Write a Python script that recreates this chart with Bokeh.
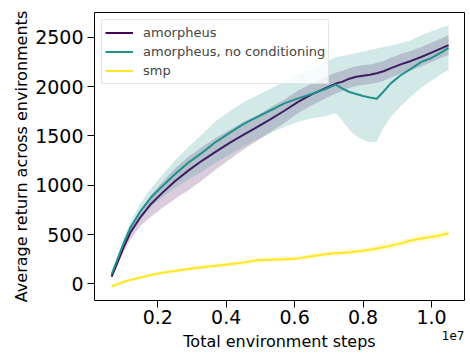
from bokeh.plotting import figure
from bokeh.models import Range1d, FixedTicker, Legend, LegendItem, Title
from bokeh.embed import file_html
from bokeh.resources import INLINE

# Environment steps at which the runs were evaluated
steps = [650000, 800000, 1000000, 1200000, 1500000, 1800000, 2100000, 2500000,
         2900000, 3300000, 3700000, 4100000, 4500000, 4900000, 5300000, 5700000,
         6100000, 6500000, 6900000, 7200000, 7400000, 7600000, 7800000, 8000000,
         8200000, 8400000, 8600000, 8800000, 9100000, 9400000, 9700000, 10000000,
         10300000, 10500000]

# amorpheus: mean return and spread
amorph_mean = [74, 200, 370, 520, 680, 810, 912, 1040, 1150, 1250, 1340, 1430,
               1510, 1590, 1670, 1755, 1845, 1920, 1985, 2030, 2050, 2080, 2100,
               2110, 2120, 2135, 2155, 2185, 2225, 2260, 2300, 2345, 2390, 2420]
amorph_lo = [60, 170, 320, 450, 590, 680, 760, 860, 950, 1050, 1160, 1260,
             1360, 1450, 1540, 1630, 1730, 1810, 1880, 1930, 1955, 1985, 2005,
             2015, 2025, 2040, 2060, 2090, 2130, 2165, 2205, 2250, 2295, 2320]
amorph_hi = [90, 225, 410, 570, 750, 900, 1020, 1170, 1290, 1390, 1480, 1560,
             1640, 1710, 1790, 1870, 1960, 2030, 2100, 2140, 2160, 2185, 2205,
             2215, 2225, 2240, 2260, 2290, 2330, 2360, 2400, 2445, 2490, 2520]

# amorpheus without conditioning
nocond_mean = [95, 230, 410, 570, 740, 875, 980, 1110, 1230, 1330, 1440, 1530,
               1620, 1690, 1760, 1830, 1880, 1925, 1975, 2020, 1980, 1945, 1925,
               1905, 1890, 1876, 1950, 2030, 2115, 2180, 2250, 2290, 2350, 2393]
nocond_lo = [80, 200, 360, 505, 660, 780, 870, 970, 1060, 1140, 1230, 1310,
             1390, 1460, 1530, 1590, 1640, 1680, 1700, 1730, 1650, 1560, 1500,
             1460, 1435, 1440, 1580, 1690, 1800, 1900, 1990, 2060, 2130, 2163]
nocond_hi = [110, 260, 455, 630, 820, 970, 1090, 1250, 1390, 1520, 1650, 1750,
             1840, 1910, 1980, 2050, 2120, 2180, 2250, 2300, 2310, 2325, 2340,
             2355, 2370, 2385, 2400, 2415, 2440, 2470, 2520, 2560, 2600, 2620]

# smp baseline
smp_mean = [-27, -5, 20, 40, 65, 90, 111, 130, 150, 168, 183, 198, 215, 238,
            245, 250, 258, 280, 300, 310, 315, 320, 328, 335, 345, 358, 370,
            385, 410, 440, 460, 475, 495, 513]
smp_lo = [-42, -22, 2, 20, 45, 70, 90, 108, 127, 145, 160, 174, 190, 212,
          219, 224, 231, 252, 272, 282, 286, 291, 298, 305, 314, 326, 338,
          352, 376, 405, 425, 440, 460, 478]
smp_hi = [-12, 12, 38, 60, 85, 110, 132, 152, 173, 191, 206, 222, 240, 264,
          271, 276, 285, 308, 328, 338, 344, 349, 358, 365, 376, 390, 402,
          418, 444, 475, 495, 510, 530, 548]

x_ticks = [2000000, 4000000, 6000000, 8000000, 10000000]
x_tick_labels = ["0.2", "0.4", "0.6", "0.8", "1.0"]
y_ticks = [0, 500, 1000, 1500, 2000, 2500]

PURPLE = "#440154"
TEAL = "#21918c"
YELLOW = "#fde725"
FONT = "DejaVu Sans"

p = figure(width=470, height=354, output_backend="svg", toolbar_location=None,
           x_range=Range1d(149700, 10965000), y_range=Range1d(-169, 2751),
           min_border_left=94, min_border_right=6, min_border_top=12,
           min_border_bottom=54)

p.background_fill_color = "white"
p.border_fill_color = "white"
p.outline_line_color = "black"
p.outline_line_width = 1
p.xgrid.visible = False
p.ygrid.visible = False

for ax in (p.xaxis[0], p.yaxis[0]):
    ax.axis_line_color = None
    ax.major_tick_out = 7
    ax.major_tick_in = 0
    ax.minor_tick_out = 0
    ax.minor_tick_in = 0
    ax.major_tick_line_color = "black"
    ax.major_label_text_font = FONT
    ax.major_label_text_font_size = "19px"
    ax.major_label_text_color = "black"
    ax.axis_label_text_font = FONT
    ax.axis_label_text_font_size = "16px"
    ax.axis_label_text_font_style = "normal"
    ax.axis_label_text_color = "black"

p.xaxis.ticker = FixedTicker(ticks=x_ticks)
p.xaxis.major_label_overrides = {t: s for t, s in zip(x_ticks, x_tick_labels)}
p.xaxis.axis_label = "Total environment steps"
p.xaxis.major_label_standoff = 2
p.xaxis.axis_label_standoff = 5

p.yaxis.ticker = FixedTicker(ticks=y_ticks)
p.yaxis.axis_label = "Average return across environments"
p.yaxis.major_label_standoff = 4
p.yaxis.axis_label_standoff = 1

# shaded spreads and mean curves
p.varea(x=steps, y1=amorph_lo, y2=amorph_hi, fill_color=PURPLE, fill_alpha=0.2)
l1 = p.line(steps, amorph_mean, line_color=PURPLE, line_width=2)
p.varea(x=steps, y1=nocond_lo, y2=nocond_hi, fill_color=TEAL, fill_alpha=0.2)
l2 = p.line(steps, nocond_mean, line_color=TEAL, line_width=2)
p.varea(x=steps, y1=smp_lo, y2=smp_hi, fill_color=YELLOW, fill_alpha=0.2)
l3 = p.line(steps, smp_mean, line_color=YELLOW, line_width=2)

legend = Legend(items=[
    LegendItem(label="amorpheus", renderers=[l1]),
    LegendItem(label="amorpheus, no conditioning", renderers=[l2]),
    LegendItem(label="smp", renderers=[l3]),
], location="top_left", margin=7, padding=3, spacing=0,
   glyph_width=28, glyph_height=19, label_height=19, label_standoff=10,
   border_line_color="#cccccc", border_line_width=1,
   background_fill_color="white", background_fill_alpha=0.8,
   label_text_font=FONT, label_text_font_size="13px")
p.add_layout(legend)

# scale factor of the x axis, tucked under the right end of the axis
p.add_layout(Title(text="1e7", align="right", vertical_align="top",
                   standoff=-46, text_font=FONT, text_font_size="12px",
                   text_font_style="normal", text_color="black"), "below")

open("out.html", "w").write(file_html(p, INLINE))
